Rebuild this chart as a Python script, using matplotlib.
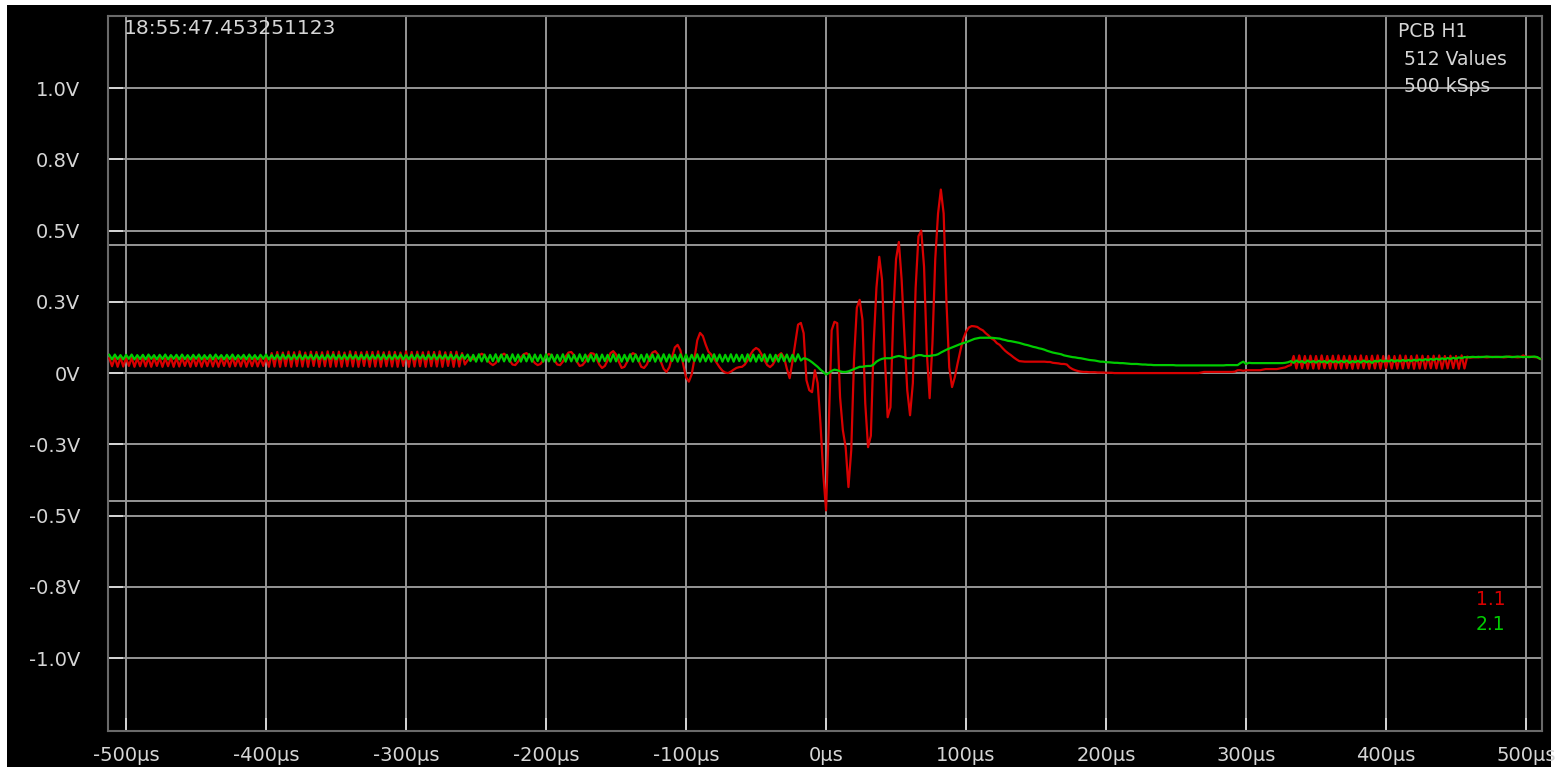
import matplotlib.pyplot as plt
import numpy as np
from matplotlib.patches import Rectangle

plt.rcParams['font.family'] = ['DejaVu Sans']

# capture info: 512 values, 500 kSps -> one sample every 2 us, first at -512 us
t_first_us = -512
t_step_us = 2

# channel 1.1 (red), values in mV, one row = 16 samples
ch1_mv = [
    52, 24, 54, 22, 55, 23, 53, 25, 54, 22, 52, 24, 55, 23, 54, 22,
    53, 25, 54, 22, 52, 24, 55, 22, 53, 23, 54, 25, 52, 22, 55, 24,
    54, 22, 53, 24, 55, 23, 52, 22, 54, 25, 53, 22, 55, 24, 52, 23,
    55, 22, 53, 24, 54, 23, 52, 25, 55, 22, 70, 23, 74, 22, 72, 24,
    75, 22, 73, 24, 76, 23, 72, 22, 75, 25, 74, 22, 73, 24, 76, 22,
    74, 23, 75, 22, 72, 24, 76, 23, 74, 22, 73, 25, 75, 22, 74, 23,
    76, 22, 73, 24, 75, 23, 74, 22, 72, 25, 76, 22, 74, 23, 75, 24,
    73, 22, 75, 24, 74, 23, 76, 22, 73, 25, 74, 22, 75, 23, 70, 30,
    45, 55, 48, 50, 60, 68, 62, 48, 35, 28, 35, 50, 62, 68, 60, 45,
    30, 28, 40, 55, 66, 70, 62, 48, 35, 28, 32, 45, 60, 67, 62, 45,
    30, 28, 40, 58, 72, 74, 62, 40, 25, 28, 40, 58, 70, 68, 52, 30,
    18, 25, 45, 70, 77, 65, 40, 18, 22, 40, 60, 70, 65, 45, 22, 18,
    30, 55, 72, 77, 65, 40, 15, 4, 20, 55, 90, 99, 80, 30, -15, -30,
    -5, 50, 115, 141, 130, 100, 75, 65, 50, 35, 20, 8, 2, 0, 5, 12,
    18, 21, 22, 30, 45, 65, 80, 88, 82, 65, 45, 28, 21, 30, 48, 62,
    70, 55, 15, -18, 40, 105, 170, 176, 140, -25, -60, -67, 10, -35, -176, -352,
    -482, -176, 150, 180, 175, -84, -200, -260, -400, -270, 50, 230, 257, 187, -106, -260,
    -220, 100, 300, 408, 327, 56, -155, -120, 200, 400, 460, 327, 127, -60, -148, -35,
    300, 480, 500, 373, 70, -88, 105, 400, 560, 644, 560, 250, 20, -49, -14, 35,
    80, 120, 145, 160, 165, 164, 162, 155, 150, 140, 132, 122, 116, 105, 99, 88,
    78, 70, 63, 55, 48, 42, 41, 40, 40, 40, 40, 40, 40, 40, 40, 39,
    39, 36, 35, 34, 32, 32, 30, 20, 14, 10, 7, 5, 4, 4, 3, 3,
    3, 2, 2, 2, 1, 1, 1, 0, 0, 0, 0, 0, 0, 0, 0, 0,
    0, 0, 0, 0, 0, 0, 0, 0, 0, 0, 0, 0, 0, 0, 0, 0,
    0, 0, 0, 0, 0, 0, 2, 4, 4, 4, 4, 4, 4, 4, 4, 4,
    4, 4, 5, 10, 10, 8, 10, 10, 10, 10, 10, 10, 12, 14, 14, 14,
    14, 14, 16, 18, 20, 25, 28, 60, 16, 62, 17, 60, 15, 61, 16, 60,
    15, 62, 17, 60, 16, 61, 15, 62, 16, 60, 17, 61, 15, 60, 16, 62,
    17, 60, 15, 61, 16, 62, 15, 60, 17, 61, 16, 60, 15, 62, 16, 61,
    17, 60, 15, 62, 16, 61, 15, 60, 17, 61, 16, 62, 15, 60, 16, 61,
    17, 60, 15, 62, 16, 58, 54, 55, 56, 55, 57, 56, 55, 56, 57, 56,
    56, 57, 55, 56, 58, 57, 56, 55, 56, 62, 56, 58, 57, 56, 55, 50,
]

# channel 2.1 (green), values in mV
ch2_mv = [
    64, 48, 65, 49, 63, 48, 64, 50, 65, 48, 63, 49, 64, 48, 65, 50,
    63, 48, 64, 49, 65, 48, 63, 50, 64, 48, 65, 49, 63, 48, 64, 50,
    65, 48, 63, 49, 64, 48, 65, 50, 63, 48, 64, 49, 65, 48, 63, 50,
    64, 48, 65, 49, 63, 48, 64, 50, 65, 48, 63, 49, 64, 48, 65, 50,
    63, 48, 64, 49, 65, 48, 63, 50, 64, 48, 65, 49, 63, 48, 64, 50,
    65, 48, 63, 49, 64, 48, 65, 50, 63, 48, 64, 49, 65, 48, 63, 50,
    64, 48, 65, 49, 63, 48, 64, 50, 65, 48, 63, 49, 64, 48, 65, 50,
    63, 48, 64, 49, 65, 48, 63, 50, 64, 48, 65, 49, 63, 48, 64, 50,
    65, 42, 64, 40, 66, 41, 65, 40, 64, 42, 66, 40, 65, 41, 64, 40,
    66, 42, 65, 40, 64, 41, 66, 40, 65, 42, 64, 40, 66, 41, 65, 40,
    64, 42, 66, 40, 65, 41, 64, 40, 66, 42, 65, 40, 64, 41, 66, 40,
    65, 42, 64, 40, 66, 41, 65, 40, 64, 42, 66, 40, 65, 41, 64, 40,
    66, 42, 65, 40, 64, 41, 66, 40, 65, 42, 64, 40, 66, 41, 65, 40,
    64, 42, 66, 40, 65, 41, 64, 40, 66, 42, 65, 40, 64, 41, 66, 40,
    65, 42, 64, 40, 66, 41, 65, 40, 64, 42, 66, 40, 65, 41, 64, 40,
    66, 42, 65, 40, 64, 41, 66, 44, 52, 50, 45, 38, 30, 22, 12, 4,
    -5, 0, 8, 12, 10, 6, 4, 4, 6, 10, 14, 18, 22, 22, 24, 25,
    25, 30, 40, 46, 50, 52, 52, 52, 55, 58, 60, 58, 55, 52, 52, 55,
    60, 63, 63, 60, 60, 60, 62, 63, 66, 72, 77, 82, 86, 90, 94, 98,
    102, 105, 108, 112, 116, 120, 122, 124, 124, 124, 124, 124, 123, 122, 121, 118,
    116, 113, 112, 110, 108, 106, 103, 100, 98, 95, 92, 90, 87, 85, 82, 78,
    75, 72, 70, 68, 66, 62, 60, 58, 56, 55, 53, 52, 50, 48, 46, 45,
    44, 42, 40, 40, 38, 38, 37, 36, 36, 35, 35, 34, 33, 32, 32, 32,
    31, 30, 30, 29, 29, 28, 28, 28, 28, 28, 28, 28, 28, 27, 27, 27,
    27, 27, 27, 27, 27, 27, 27, 27, 27, 27, 27, 27, 27, 27, 27, 28,
    28, 28, 28, 28, 35, 40, 32, 36, 35, 35, 35, 35, 35, 35, 35, 35,
    35, 35, 35, 35, 36, 38, 42, 36, 44, 38, 42, 36, 44, 38, 42, 37,
    43, 38, 42, 36, 44, 38, 42, 37, 43, 38, 44, 36, 42, 38, 43, 37,
    44, 38, 42, 36, 43, 40, 45, 40, 44, 41, 46, 40, 45, 41, 46, 42,
    46, 42, 47, 43, 48, 44, 49, 45, 50, 46, 51, 47, 52, 48, 53, 49,
    54, 50, 55, 52, 56, 55, 56, 57, 56, 57, 56, 57, 58, 57, 56, 57,
    57, 56, 57, 58, 57, 56, 57, 58, 57, 56, 57, 56, 57, 58, 56, 50,
]

y_ticks = [1.0, 0.75, 0.5, 0.25, 0.0, -0.25, -0.5, -0.75, -1.0]
y_labels = ['1.0V', '0.8V', '0.5V', '0.3V', '0V', '-0.3V', '-0.5V', '-0.8V', '-1.0V']
level_lines = [0.45, -0.45]
x_ticks = [-500, -400, -300, -200, -100, 0, 100, 200, 300, 400, 500]
x_labels = ['-500µs', '-400µs', '-300µs', '-200µs', '-100µs', '0µs',
            '100µs', '200µs', '300µs', '400µs', '500µs']

time_us = t_first_us + t_step_us * np.arange(len(ch1_mv))
ch1 = np.array(ch1_mv) / 1000.0
ch2 = np.array(ch2_mv) / 1000.0

# 颜色
bg = '#000000'
grid_c = '#969696'
text_c = '#d6d6d6'
red = '#d80000'
green = '#00cc00'

fig = plt.figure(figsize=(15.56, 7.72), dpi=100, facecolor='white')
# black screen area with thin white border
fig.patches.append(Rectangle((7 / 1556, 5 / 772), 1544 / 1556, 762 / 772,
                             transform=fig.transFigure, facecolor=bg,
                             edgecolor='none', zorder=-10))

ax = fig.add_axes([108 / 1556, 1 - 731 / 772, (1542 - 108) / 1556, (731 - 16) / 772])
ax.set_facecolor(bg)

ax.set_xlim(-512.9, 511.4)
ax.set_ylim(-1.256, 1.253)

ax.set_xticks(x_ticks)
ax.set_xticklabels(x_labels)
ax.set_yticks(y_ticks)
ax.set_yticklabels(y_labels)

# 网格线
ax.grid(True, color=grid_c, linewidth=1.4)
for lv in level_lines:
    ax.axhline(lv, color=grid_c, linewidth=1.4, zorder=0.9)
ax.set_axisbelow(True)

ax.tick_params(axis='x', direction='in', length=9.5, width=1.2, color='#e0e0e0',
               labelcolor=text_c, labelsize=14, pad=11)
ax.tick_params(axis='y', direction='in', length=11, width=1.2, color='#e0e0e0',
               labelcolor=text_c, labelsize=14, pad=20)

for spine in ax.spines.values():
    spine.set_color('#6a6a6a')
    spine.set_linewidth(1.5)

ax.plot(time_us, ch1, color=red, linewidth=1.6, zorder=3)
ax.plot(time_us, ch2, color=green, linewidth=1.6, zorder=4)

# header texts
fig.text(124 / 1556, 1 - 19 / 772, '18:55:47.453251123', color=text_c,
         fontsize=14.5, ha='left', va='top')
fig.text(1398 / 1556, 1 - 22 / 772, 'PCB H1', color=text_c, fontsize=13.5,
         ha='left', va='top')
fig.text(1398 / 1556, 1 - 50 / 772, ' 512 Values', color=text_c, fontsize=13.5,
         ha='left', va='top')
fig.text(1398 / 1556, 1 - 77 / 772, ' 500 kSps', color=text_c, fontsize=13.5,
         ha='left', va='top')

# channel legend
fig.text(1476 / 1556, 1 - 590 / 772, '1.1', color=red, fontsize=13.5,
         ha='left', va='top')
fig.text(1476 / 1556, 1 - 615 / 772, '2.1', color=green, fontsize=13.5,
         ha='left', va='top')

plt.savefig('out.png', dpi=100, facecolor=fig.get_facecolor())
